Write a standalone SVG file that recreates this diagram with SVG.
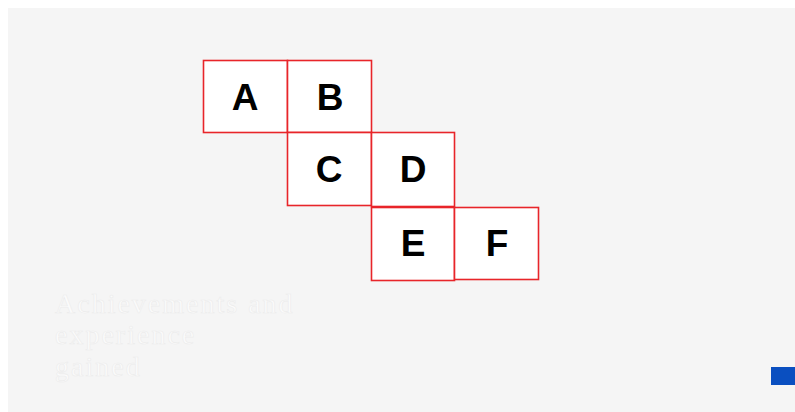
<svg xmlns="http://www.w3.org/2000/svg" width="795" height="412" viewBox="0 0 795 412">
<style>
.box{fill:#ffffff;stroke:#e8252a;stroke-width:1.6}
.lbl{font-family:"Liberation Sans",Arial,sans-serif;font-weight:bold;font-size:37px;fill:#000;text-anchor:middle}
.faint{font-family:"Liberation Serif","Times New Roman",serif;font-size:28px;fill:#fbfbfb;stroke:#ececec;stroke-width:0.6;letter-spacing:2px}
</style>
<rect x="0" y="0" width="795" height="412" fill="#ffffff"/>
<rect x="8" y="8" width="787" height="404" fill="#f5f5f5"/>
<g id="nodeA"><rect class="box" x="203.5" y="60.5" width="84" height="72"/><text class="lbl" x="245" y="110">A</text></g>
<g id="nodeB"><rect class="box" x="287.5" y="60.5" width="84" height="72"/><text class="lbl" x="330" y="110">B</text></g>
<g id="nodeC"><rect class="box" x="287.5" y="132.5" width="84" height="73"/><text class="lbl" x="329" y="182">C</text></g>
<g id="nodeD"><rect class="box" x="371.5" y="132.5" width="83" height="74"/><text class="lbl" x="413" y="182">D</text></g>
<g id="nodeE"><rect class="box" x="371.5" y="207.5" width="83" height="73"/><text class="lbl" x="413" y="256">E</text></g>
<g id="nodeF"><rect class="box" x="454.5" y="207.5" width="84" height="72"/><text class="lbl" x="497" y="256">F</text></g>
<g id="connectors"></g>
<text class="faint" x="55" y="313">Achievements and</text>
<text class="faint" x="55" y="344">experience</text>
<text class="faint" x="55" y="376">gained</text>
<rect x="771" y="367" width="24" height="18" fill="#0a4fc0"/>
</svg>
